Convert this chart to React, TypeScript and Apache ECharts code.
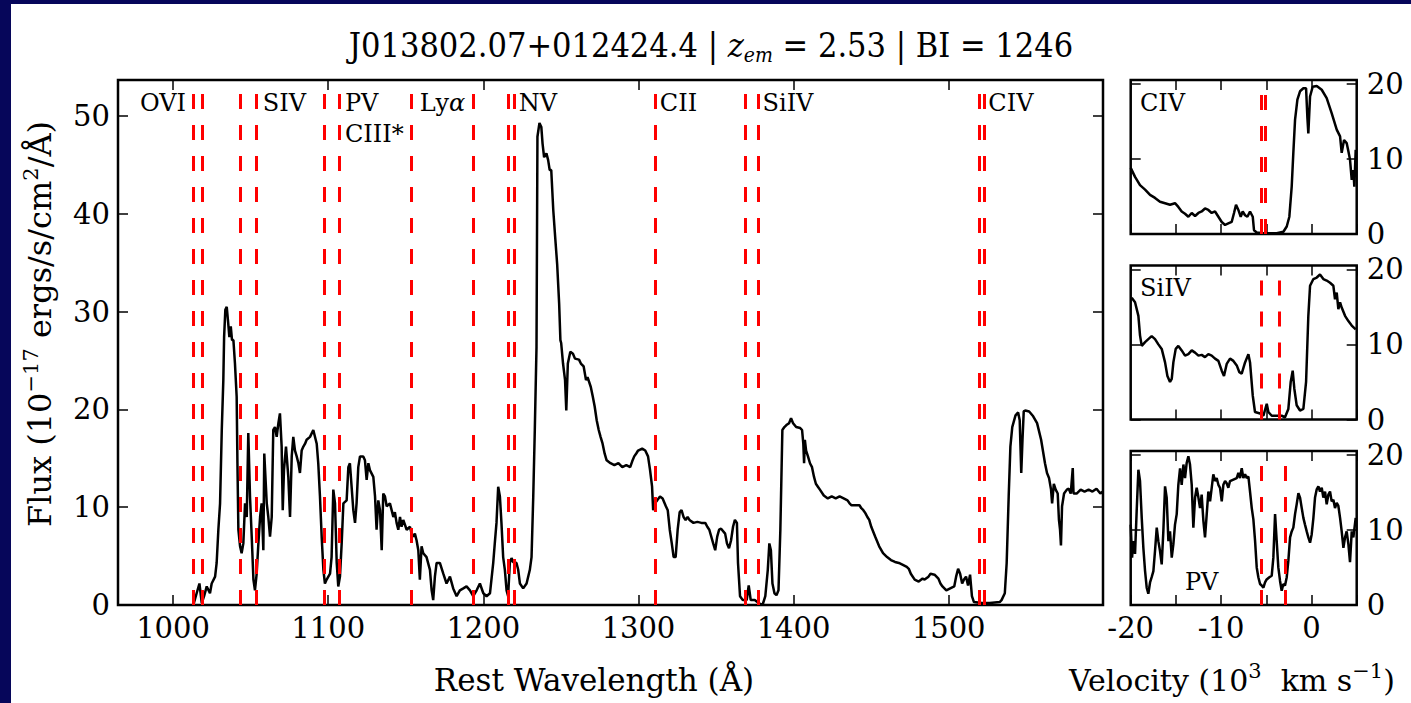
import React, { useEffect, useRef } from "react";
import * as echarts from "echarts";

// ---------------- data ----------------
const mainWave = [
  1013.1, 1015.2, 1017.0, 1018.5, 1020.0, 1021.7, 1023.8, 1024.9, 1027.1, 1028.1, 1029.2, 1030.3, 1031.4, 1032.4, 1032.9,
  1033.7, 1034.6, 1035.4, 1036.3, 1037.2, 1038.0, 1038.9, 1039.9, 1041.0, 1041.5, 1042.1, 1043.2, 1044.2, 1045.3, 1046.4,
  1047.5, 1048.5, 1049.6, 1050.7, 1051.8, 1052.8, 1053.9, 1055.0, 1056.1, 1057.1, 1058.2, 1058.8, 1060.4, 1061.4, 1062.5,
  1063.6, 1064.6, 1065.7, 1066.8, 1067.9, 1068.9, 1070.0, 1070.7, 1071.5, 1072.8, 1074.3, 1075.4, 1076.5, 1077.5, 1078.6,
  1079.7, 1080.8, 1081.8, 1082.9, 1084.0, 1085.1, 1086.1, 1088.3, 1090.4, 1092.6, 1093.6, 1094.7, 1095.8, 1096.9, 1097.9,
  1099.0, 1101.2, 1102.2, 1103.3, 1104.4, 1105.5, 1106.5, 1107.6, 1108.7, 1109.8, 1111.9, 1113.0, 1114.0, 1116.2, 1117.3,
  1118.3, 1119.4, 1120.5, 1122.6, 1123.7, 1124.8, 1125.9, 1126.9, 1129.1, 1130.2, 1131.2, 1132.3, 1133.4, 1134.5, 1135.5,
  1136.6, 1137.7, 1139.8, 1140.9, 1142.0, 1143.0, 1144.1, 1145.2, 1146.3, 1147.3, 1148.4, 1150.6, 1152.7, 1153.8, 1154.9,
  1155.9, 1157.0, 1158.1, 1159.1, 1160.2, 1161.3, 1163.4, 1165.6, 1166.7, 1167.7, 1168.8, 1169.9, 1172.0, 1174.2, 1176.3,
  1178.5, 1180.6, 1182.8, 1184.9, 1187.1, 1189.2, 1191.4, 1193.5, 1195.7, 1197.8, 1200.0, 1202.1, 1204.3, 1206.4, 1207.4,
  1208.5, 1209.6, 1210.7, 1211.7, 1212.8, 1213.9, 1215.0, 1216.0, 1217.1, 1218.2, 1219.2, 1221.4, 1222.5, 1223.6, 1225.7,
  1227.9, 1230.0, 1231.1, 1232.2, 1233.2, 1234.3, 1234.9, 1236.2, 1237.4, 1238.2, 1239.2, 1240.7, 1241.8, 1242.8, 1243.8,
  1245.1, 1246.3, 1247.6, 1248.9, 1249.7, 1250.2, 1251.4, 1252.7, 1253.5, 1254.5, 1256.1, 1257.8, 1259.1, 1261.7, 1262.9,
  1264.7, 1266.2, 1267.2, 1269.3, 1270.6, 1271.8, 1273.1, 1274.4, 1275.6, 1276.9, 1278.2, 1279.5, 1282.0, 1284.5, 1287.1,
  1289.6, 1292.2, 1294.7, 1296.0, 1297.3, 1298.6, 1299.8, 1302.4, 1304.4, 1306.2, 1307.5, 1308.8, 1309.5, 1310.5, 1312.1,
  1313.9, 1315.6, 1317.7, 1318.9, 1320.2, 1321.5, 1322.7, 1324.0, 1325.3, 1326.6, 1327.8, 1329.1, 1330.4, 1331.7, 1332.9,
  1335.5, 1338.0, 1340.6, 1343.1, 1344.4, 1345.7, 1348.2, 1349.5, 1350.8, 1352.0, 1353.3, 1355.9, 1357.1, 1358.4, 1359.7,
  1361.0, 1362.2, 1363.5, 1364.2, 1365.5, 1367.3, 1369.8, 1371.1, 1372.4, 1375.0, 1377.5, 1380.0, 1381.8, 1383.4, 1384.4,
  1385.4, 1386.4, 1387.7, 1389.0, 1390.3, 1391.5, 1392.8, 1394.1, 1395.4, 1397.1, 1398.4, 1399.7, 1401.7, 1404.3, 1405.5,
  1406.3, 1406.8, 1407.3, 1408.1, 1409.3, 1410.6, 1411.9, 1413.2, 1414.4, 1415.7, 1417.0, 1419.5, 1422.1, 1424.6, 1427.2,
  1429.7, 1432.3, 1434.8, 1436.1, 1437.4, 1439.9, 1442.5, 1443.7, 1445.0, 1446.3, 1447.6, 1448.8, 1450.1, 1452.6, 1455.2,
  1457.7, 1460.3, 1462.8, 1465.4, 1467.9, 1470.5, 1473.0, 1474.3, 1475.6, 1478.1, 1480.7, 1483.2, 1484.5, 1487.0, 1488.3,
  1490.9, 1493.4, 1494.7, 1496.0, 1498.5, 1501.0, 1503.6, 1504.8, 1506.1, 1507.4, 1508.7, 1509.9, 1511.2, 1512.5, 1513.8,
  1515.0, 1516.3, 1521.4, 1526.5, 1532.9, 1534.1, 1536.2, 1537.4, 1538.7, 1539.8, 1541.0, 1543.1, 1544.8, 1545.8, 1546.8,
  1547.6, 1548.4, 1549.4, 1551.9, 1554.5, 1557.0, 1559.6, 1562.1, 1563.4, 1564.7, 1566.0, 1566.7, 1567.8, 1569.0, 1570.3,
  1571.1, 1571.8, 1572.4, 1573.1, 1574.4, 1576.2, 1577.4, 1578.7, 1580.0, 1580.5, 1582.5, 1585.1, 1587.6, 1590.2, 1592.7,
  1595.3, 1597.8, 1599.2,
];
const mainFlux = [
  0.0, 1.2, 2.2, 0.2, 0.9, 1.9, 1.2, 2.2, 2.9, 4.3, 7.7, 10.4, 17.9, 23.0, 27.4,
  30.2, 30.5, 29.1, 27.4, 28.5, 27.1, 27.1, 24.7, 21.3, 14.5, 7.7, 6.0, 5.3, 6.3, 10.4,
  9.0, 17.6, 11.1, 7.0, 2.6, 1.5, 3.2, 6.3, 9.0, 10.4, 5.6, 15.5, 10.4, 9.0, 7.0,
  9.0, 17.9, 18.2, 17.2, 18.6, 19.6, 16.2, 9.7, 13.8, 16.2, 13.1, 9.0, 15.2, 17.2, 15.8,
  15.2, 14.5, 13.5, 15.8, 16.2, 16.5, 16.9, 17.2, 17.9, 16.5, 14.5, 11.1, 7.0, 3.6, 2.2,
  2.6, 3.2, 4.9, 11.8, 10.4, 4.3, 1.9, 2.9, 6.3, 10.4, 10.7, 14.1, 14.5, 9.7, 8.4,
  10.4, 14.1, 15.2, 15.2, 14.8, 12.8, 14.5, 13.8, 13.1, 11.1, 7.7, 10.7, 9.7, 5.6, 11.4,
  11.1, 10.1, 10.4, 9.7, 9.0, 9.5, 8.4, 7.7, 9.0, 8.0, 8.7, 7.7, 8.0, 7.3, 7.0,
  7.3, 6.6, 5.6, 2.6, 6.0, 5.3, 4.9, 3.6, 1.5, 0.5, 2.9, 4.3, 4.3, 3.2, 2.2,
  2.9, 1.7, 0.9, 1.5, 1.7, 1.9, 1.5, 0.9, 1.5, 2.2, 1.2, 0.9, 1.2, 4.3, 6.3,
  8.4, 12.1, 11.1, 8.4, 4.9, 3.6, 1.5, 0.9, 4.3, 4.8, 4.4, 4.3, 3.6, 2.2, 1.7,
  2.2, 3.6, 4.9, 11.1, 17.9, 26.4, 47.9, 49.3, 48.9, 47.2, 45.8, 46.2, 45.5, 44.5, 44.5,
  40.4, 37.7, 34.9, 30.8, 27.1, 26.8, 24.7, 23.0, 19.9, 24.7, 25.9, 25.7, 25.2, 25.1, 24.7,
  24.4, 23.0, 23.3, 22.3, 21.3, 20.3, 18.9, 17.9, 17.2, 16.5, 15.5, 14.8, 14.5, 14.3, 14.5,
  14.1, 14.3, 14.1, 14.7, 15.2, 15.5, 15.8, 16.0, 15.8, 15.2, 13.8, 12.1, 9.7, 10.4, 10.7,
  11.1, 10.9, 10.1, 9.7, 7.7, 6.3, 4.9, 4.9, 7.7, 9.5, 9.7, 9.0, 8.7, 9.0, 8.7,
  8.4, 8.5, 8.4, 8.4, 8.0, 7.7, 6.3, 5.6, 7.0, 7.7, 7.8, 7.3, 6.3, 5.8, 6.6,
  8.0, 8.7, 8.4, 4.3, 0.9, 0.5, 0.5, 2.0, 0.5, 0.5, 0.2, 0.0, 0.9, 3.6, 6.3,
  5.6, 2.2, 1.2, 1.0, 1.5, 7.7, 17.9, 18.2, 18.4, 18.6, 19.1, 18.6, 18.2, 18.1, 17.9,
  16.5, 14.5, 16.9, 15.8, 15.2, 14.5, 14.1, 13.1, 12.4, 12.1, 11.8, 11.2, 10.9, 11.1, 10.9,
  11.1, 10.9, 10.7, 10.4, 10.2, 10.2, 10.2, 9.9, 9.7, 9.4, 9.0, 8.7, 8.0, 7.0, 6.0,
  5.3, 4.9, 4.6, 4.4, 4.3, 4.1, 3.9, 3.7, 3.2, 2.6, 2.4, 2.7, 2.6, 2.9, 3.2,
  3.1, 2.7, 2.2, 1.9, 1.5, 1.7, 1.9, 2.9, 3.7, 3.2, 2.2, 2.6, 2.9, 2.0, 3.1,
  0.9, 0.3, 0.2, 0.2, 0.3, 0.5, 1.2, 4.3, 11.1, 16.2, 18.2, 19.4, 19.7, 18.9, 13.5,
  16.9, 19.8, 19.9, 19.8, 19.3, 18.6, 16.9, 14.5, 13.5, 13.0, 11.8, 10.4, 12.4, 11.8, 11.4,
  8.7, 7.7, 6.1, 10.1, 11.4, 11.8, 11.9, 11.4, 14.0, 11.4, 11.4, 11.8, 11.6, 11.8, 11.6,
  11.9, 11.4, 11.6,
];

// trough marker positions (rest wavelength, Å)
const lineWaves = [1013.1, 1018.5, 1043.2, 1053.5, 1097.5, 1107.2, 1153.8, 1193.5, 1216.0, 1219.9, 1310.6, 1368.6, 1377.5, 1519.6, 1522.7];
const lineLabels = ["OVI", "SIV", "PV", "CIII*", "Ly{a|α}", "NV", "CII", "SiIV", "CIV"];
const lineLabelWave = [978.7, 1057.8, 1110.8, 1110.8, 1159.1, 1222.9, 1313.8, 1380.0, 1525.6];
const lineLabelFlux = [51.3, 51.3, 51.3, 48.2, 51.3, 51.3, 51.3, 51.3, 51.3];

const mainXTicks = [1000, 1100, 1200, 1300, 1400, 1500];
const mainYTicks = [0, 10, 20, 30, 40, 50];
const velTicks = [-20, -15, -10, -5, 0, 5];
const velLabels = [-20, -10, 0];
const panelYTicks = [0, 10, 20];

// CIV panel
const civVel = [
  -20, -19.52, -18.97, -18.41, -17.86, -17.31, -16.76, -16.2, -15.65, -15.1, -14.73, -14.36, -13.99, -13.62, -13.25,
  -12.88, -12.51, -12.15, -11.78, -11.41, -11.04, -10.67, -10.3, -9.93, -9.56, -9.2, -8.83, -8.57, -8.35, -8.09,
  -7.83, -7.61, -7.35, -7.09, -6.8, -6.5, -6.36, -6.06, -5.32, -3.85, -3.11, -2.74, -2.45, -2.19, -2.01,
  -1.82, -1.56, -1.27, -0.9, -0.6, -0.46, -0.35, -0.16, 0.13, 0.58, 1.13, 1.68, 2.23, 2.79, 3.16,
  3.34, 3.6, 3.89, 4.08, 4.26, 4.45, 4.63, 4.74, 4.89,
];
const civFlux = [
  8.8, 7.6, 6.5, 5.9, 5.2, 4.8, 4.3, 4.1, 3.9, 4.1, 3.6, 3.0, 2.7, 2.3, 2.8,
  2.4, 2.8, 3.0, 3.4, 3.2, 2.8, 3.0, 2.3, 1.6, 1.2, 1.4, 1.6, 2.8, 3.9, 3.2,
  2.3, 3.0, 2.5, 2.3, 3.0, 2.3, 0.5, 0.2, 0.1, 0.1, 0.3, 1.0, 2.3, 6.3, 10.8,
  15.2, 17.9, 19.0, 19.4, 19.4, 15.6, 13.4, 18.3, 19.6, 19.7, 19.2, 18.1, 16.1, 13.9, 13.0,
  10.8, 12.5, 12.1, 11.0, 9.9, 7.2, 8.5, 6.3, 11.2,
];
const civLines = [-5.59, -5.14];

// SiIV panel
const siivVel = [
  -19.89, -19.52, -19.15, -18.97, -18.78, -18.41, -18.05, -17.68, -17.31, -16.94, -16.57, -16.2, -15.94, -15.65, -15.46,
  -15.28, -15.02, -14.73, -14.36, -13.99, -13.62, -13.25, -12.88, -12.51, -12.15, -11.78, -11.41, -11.04, -10.67, -10.3,
  -9.93, -9.68, -9.38, -9.01, -8.64, -8.27, -7.98, -7.72, -7.35, -6.98, -6.8, -6.5, -6.25, -5.69, -5.32,
  -4.95, -4.77, -4.4, -3.85, -3.3, -2.93, -2.56, -2.3, -2.08, -1.9, -1.64, -1.27, -0.9, -0.6, -0.35,
  -0.16, 0.21, 0.58, 0.94, 1.31, 1.68, 2.05, 2.42, 2.6, 2.79, 2.97, 3.16, 3.34, 3.71, 4.08,
  4.45, 4.89,
];
const siivFlux = [
  16.2, 15.6, 13.8, 11.2, 9.8, 10.3, 10.7, 11.1, 10.7, 10.0, 9.4, 7.6, 5.8, 5.0, 5.4,
  7.6, 9.4, 9.8, 9.2, 8.5, 8.7, 9.2, 8.9, 8.5, 8.6, 8.3, 8.7, 8.5, 8.1, 7.8,
  6.5, 5.8, 7.4, 8.1, 7.8, 7.2, 6.3, 6.1, 7.6, 8.7, 7.6, 3.2, 1.0, 0.8, 0.5,
  2.1, 1.0, 0.5, 0.5, 0.5, 0.3, 1.4, 5.0, 6.5, 4.1, 1.9, 1.2, 1.4, 5.0, 13.8,
  17.8, 18.7, 18.9, 19.3, 18.7, 18.5, 18.2, 17.8, 16.0, 16.9, 14.7, 15.6, 14.9, 13.8, 13.1,
  12.5, 12.0,
];
const siivLines = [-5.51, -3.6];

// PV panel
const pvVel = [
  -20, -19.85, -19.71, -19.52, -19.34, -19.15, -18.97, -18.78, -18.6, -18.41, -18.23, -18.05, -17.86, -17.68, -17.49,
  -17.31, -17.12, -16.94, -16.76, -16.57, -16.39, -16.2, -16.02, -15.83, -15.65, -15.46, -15.28, -15.1, -14.91, -14.73,
  -14.54, -14.36, -14.17, -13.99, -13.81, -13.62, -13.44, -13.25, -13.07, -12.88, -12.7, -12.51, -12.33, -12.15, -11.96,
  -11.78, -11.59, -11.41, -11.22, -11.04, -10.86, -10.67, -10.49, -10.3, -10.12, -9.93, -9.75, -9.56, -9.38, -9.2,
  -9.01, -8.64, -8.27, -8.09, -7.91, -7.72, -7.54, -7.35, -7.17, -6.98, -6.8, -6.61, -6.43, -6.24, -6.06,
  -5.88, -5.69, -5.51, -5.32, -5.14, -4.96, -4.66, -4.4, -4.22, -4.03, -3.85, -3.67, -3.48, -3.3, -3.11,
  -2.93, -2.74, -2.56, -2.37, -2.19, -2.01, -1.82, -1.64, -1.45, -1.27, -1.08, -0.9, -0.72, -0.53, -0.35,
  -0.16, 0.02, 0.21, 0.39, 0.58, 0.76, 0.94, 1.13, 1.31, 1.5, 1.68, 1.87, 2.05, 2.23, 2.42,
  2.6, 2.79, 2.97, 3.16, 3.34, 3.53, 3.71, 3.89, 4.08, 4.26, 4.45, 4.63, 4.89,
];
const pvFlux = [
  10.7, 6.3, 8.5, 6.8, 12.5, 18.0, 16.5, 11.6, 7.6, 4.5, 2.3, 1.5, 3.0, 3.7, 4.5,
  7.2, 10.3, 8.5, 7.2, 5.4, 9.8, 15.8, 14.3, 8.5, 9.8, 6.3, 8.1, 10.7, 12.1, 16.0,
  18.2, 16.0, 18.7, 16.9, 18.9, 19.8, 18.7, 16.0, 10.3, 14.3, 15.6, 14.3, 12.9, 14.7, 11.2,
  9.0, 12.1, 15.1, 13.8, 15.6, 17.4, 16.5, 16.9, 16.0, 15.6, 13.8, 16.0, 16.5, 16.2, 15.6,
  16.5, 16.7, 16.9, 17.6, 16.9, 18.2, 16.9, 17.4, 16.9, 17.1, 15.1, 12.9, 11.4, 8.5, 5.0,
  3.7, 2.8, 2.6, 2.3, 3.0, 3.4, 3.7, 3.9, 6.3, 12.1, 8.5, 5.0, 3.2, 1.9, 2.8,
  2.6, 3.7, 5.9, 9.0, 9.8, 10.3, 12.1, 13.4, 14.9, 14.3, 12.9, 11.6, 10.7, 9.8, 9.0,
  8.3, 9.4, 11.6, 14.3, 15.4, 15.8, 15.1, 15.6, 14.3, 15.1, 13.4, 14.7, 15.1, 13.8, 14.0,
  12.9, 13.6, 13.2, 11.6, 9.8, 7.6, 9.0, 9.8, 8.1, 5.7, 9.8, 9.0, 11.6,
];
const pvLines = [-5.59, -2.85];

const panelNames = ["CIV", "SiIV", "PV"];
const panelNameVel = [-18.97, -18.97, -14.0];
const panelNameFlux = [17.4, 17.5, 3.0];

// ---------------- layout / style ----------------
const FONT = "'DejaVu Serif', serif";
const TITLE_FONT = "'DejaVu Serif Condensed', 'DejaVu Serif', serif";
const NAVY = "#06065a";

const zip = (a: number[], b: number[]) => a.map((x, i) => [x, b[i]]);
const plain = (v: number) => String(v);

function xAxisOf(gridIndex: number, position: string, min: number, max: number, ticks: number[], labels: number[], showLabel: boolean) {
  return {
    type: "value",
    gridIndex,
    position,
    min,
    max,
    axisLine: { show: false, onZero: false },
    axisTick: { show: true, inside: true, length: 10, customValues: ticks, lineStyle: { color: "#000", width: 1.5 } },
    axisLabel: { show: showLabel, customValues: labels, formatter: plain, margin: 8, color: "#000", fontSize: 29, fontFamily: FONT },
    splitLine: { show: false },
  };
}
function yAxisOf(gridIndex: number, position: string, min: number, max: number, ticks: number[], showLabel: boolean, margin: number) {
  return {
    type: "value",
    gridIndex,
    position,
    min,
    max,
    axisLine: { show: false, onZero: false },
    axisTick: { show: true, inside: true, length: 10, customValues: ticks, lineStyle: { color: "#000", width: 1.5 } },
    axisLabel: { show: showLabel, customValues: ticks, formatter: plain, margin, color: "#000", fontSize: 29, fontFamily: FONT },
    splitLine: { show: false },
  };
}

const dashStyle = { color: "#ff0000", width: 3, type: [15, 16] as any, opacity: 1 };

function spectrum(xi: number, data: number[][], lines: number[]) {
  return {
    type: "line",
    xAxisIndex: xi,
    yAxisIndex: xi,
    data,
    showSymbol: false,
    symbol: "none",
    silent: true,
    lineStyle: { color: "#000", width: 2.5 },
    markLine: {
      silent: true,
      symbol: ["none", "none"],
      label: { show: false },
      lineStyle: dashStyle,
      data: lines.map((v) => ({ xAxis: v })),
    },
  };
}

function labelSeries(xi: number, names: string[], xs: number[], ys: number[]) {
  return {
    type: "scatter",
    xAxisIndex: xi,
    yAxisIndex: xi,
    symbolSize: 0,
    silent: true,
    itemStyle: { opacity: 1, color: "#000" },
    data: names.map((n, i) => ({ name: n, value: [xs[i], ys[i]] })),
    label: {
      show: true,
      position: "right",
      distance: 0,
      formatter: "{b}",
      color: "#000000",
      opacity: 1,
      fontSize: 24,
      fontFamily: FONT,
      rich: { a: { fontStyle: "italic", fontSize: 24, fontFamily: FONT, color: "#000000" } },
    },
  };
}

function textEl(text: string, x: number, y: number, size: number, rotation = 0) {
  return {
    type: "text",
    x,
    y,
    rotation,
    silent: true,
    style: {
      text,
      fontSize: size,
      fontFamily: FONT,
      fill: "#000",
      lineHeight: 40,
      align: "center",
      verticalAlign: "middle",
      textAlign: "center",
      textVerticalAlign: "middle",
      rich: {
        sup: { fontSize: 21, fontFamily: FONT, fill: "#000", color: "#000", lineHeight: 22, verticalAlign: "top" },
      },
    },
  };
}

export default function App() {
  const ref = useRef<HTMLDivElement>(null);

  useEffect(() => {
    if (!ref.current) return;
    const chart = echarts.init(ref.current, undefined, { renderer: "svg" });

    const gridBase = { show: true, borderColor: "#000", borderWidth: 2.5, backgroundColor: "transparent", containLabel: false, outerBoundsMode: "none" };
    const panelLeft = 1119.7;
    const panelW = 226;
    const panelH = 154;
    const panelTops = [76, 261.5, 447];

    const option: any = {
      animation: false,
      backgroundColor: "#ffffff",
      grid: [
        { ...gridBase, left: 107, top: 76, width: 985, height: 525 },
        ...panelTops.map((t) => ({ ...gridBase, left: panelLeft, top: t, width: panelW, height: panelH })),
      ],
      xAxis: [
        xAxisOf(0, "bottom", 964.5, 1599.5, mainXTicks, mainXTicks, true),
        xAxisOf(1, "bottom", -20, 5, velTicks, velLabels, false),
        xAxisOf(2, "bottom", -20, 5, velTicks, velLabels, false),
        xAxisOf(3, "bottom", -20, 5, velTicks, velLabels, true),
        xAxisOf(0, "top", 964.5, 1599.5, mainXTicks, mainXTicks, false),
        xAxisOf(1, "top", -20, 5, velTicks, velLabels, false),
        xAxisOf(2, "top", -20, 5, velTicks, velLabels, false),
        xAxisOf(3, "top", -20, 5, velTicks, velLabels, false),
      ],
      yAxis: [
        yAxisOf(0, "left", 0, 53.7, mainYTicks, true, 8),
        yAxisOf(1, "right", 0, 20.5, panelYTicks, true, 10),
        yAxisOf(2, "right", 0, 20.5, panelYTicks, true, 10),
        yAxisOf(3, "right", 0, 20.5, panelYTicks, true, 10),
        yAxisOf(0, "right", 0, 53.7, mainYTicks, false, 8),
        yAxisOf(1, "left", 0, 20.5, panelYTicks, false, 8),
        yAxisOf(2, "left", 0, 20.5, panelYTicks, false, 8),
        yAxisOf(3, "left", 0, 20.5, panelYTicks, false, 8),
      ],
      series: [
        spectrum(0, zip(mainWave, mainFlux), lineWaves),
        spectrum(1, zip(civVel, civFlux), civLines),
        spectrum(2, zip(siivVel, siivFlux), siivLines),
        spectrum(3, zip(pvVel, pvFlux), pvLines),
        labelSeries(0, lineLabels, lineLabelWave, lineLabelFlux),
        labelSeries(1, [panelNames[0]], [panelNameVel[0]], [panelNameFlux[0]]),
        labelSeries(2, [panelNames[1]], [panelNameVel[1]], [panelNameFlux[1]]),
        labelSeries(3, [panelNames[2]], [panelNameVel[2]], [panelNameFlux[2]]),
      ],
      graphic: [
        {
          type: "text",
          x: 700,
          y: 41,
          silent: true,
          style: {
            text: "J013802.07+012424.4 | {z|z}{em|em} = 2.53 | BI = 1246",
            fontSize: 34,
            fontFamily: TITLE_FONT,
            fill: "#000",
            lineHeight: 40,
            align: "center",
            verticalAlign: "middle",
            textAlign: "center",
            textVerticalAlign: "middle",
            rich: {
              z: { fontSize: 34, fontStyle: "italic", fontFamily: TITLE_FONT, lineHeight: 40 },
              em: { fontSize: 21, fontStyle: "italic", fontFamily: TITLE_FONT, lineHeight: 16, verticalAlign: "bottom" },
            },
          },
        },
        textEl("Rest Wavelength (Å)", 583, 676, 31),
        textEl("Velocity (10{sup|3}  km s{sup|−1})", 1221, 676, 30),
        textEl("Flux (10{sup|−17} ergs/s/cm{sup|2}/Å)", 29, 320, 32, Math.PI / 2),
      ],
    };

    chart.setOption(option);
    return () => chart.dispose();
  }, []);

  return (
    <div style={{ position: "fixed", left: 0, top: 0, width: 1411, height: 703, background: NAVY, overflow: "hidden" }}>
      <div ref={ref} style={{ position: "absolute", left: 11, top: 4, width: 1400, height: 699, background: "#fff" }} />
    </div>
  );
}
